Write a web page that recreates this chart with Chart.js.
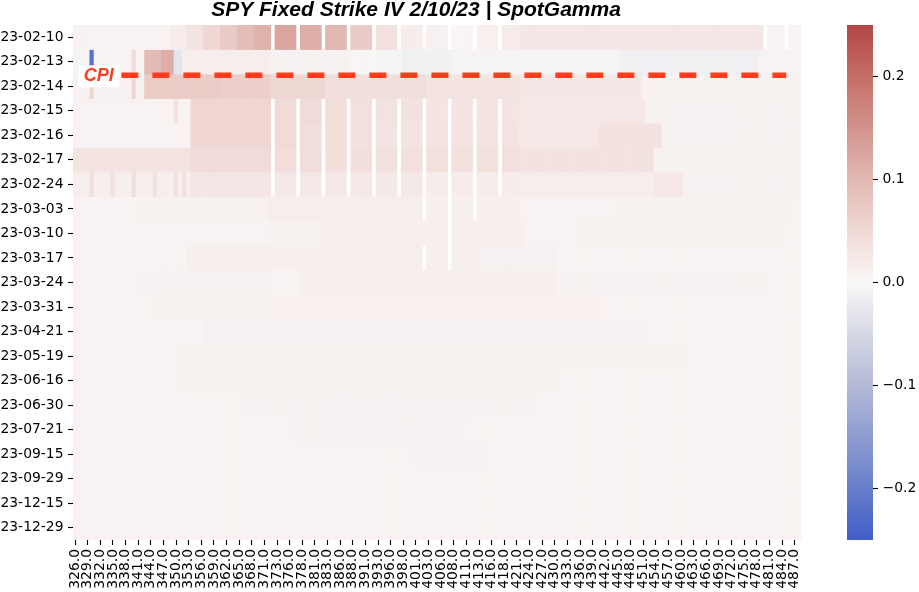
<!DOCTYPE html>
<html><head><meta charset="utf-8">
<script src="https://cdn.jsdelivr.net/npm/chart.js@4.4.1/dist/chart.umd.min.js"></script>
<style>
html,body{margin:0;padding:0;background:#fff;}
#wrap{position:relative;width:919px;height:592px;overflow:hidden;}
canvas{position:absolute;top:0;}
</style>
</head><body>
<div id="wrap">
<canvas id="main" width="919" height="592" style="left:0"></canvas>
<canvas id="cbar" width="99" height="592" style="left:820px"></canvas>
</div>
<script>
// ---------------- data ----------------
const chartTitle = 'SPY Fixed Strike IV 2/10/23 | SpotGamma';
const expiries = ['23-02-10','23-02-13','23-02-14','23-02-15','23-02-16','23-02-17','23-02-24','23-03-03','23-03-10','23-03-17','23-03-24','23-03-31','23-04-21','23-05-19','23-06-16','23-06-30','23-07-21','23-09-15','23-09-29','23-12-15','23-12-29'];
const strikes = [326,327,328,329,330,331,332,333,334,335,336,337,338,339,340,341,342,343,344,345,346,347,348,349,350,351,352,353,354,355,356,357,358,359,360,361,362,363,364,365,366,367,368,369,370,371,
372,372.5,373,374,375,376,377,377.5,378,379,380,381,382,382.5,383,384,385,386,387,387.5,388,389,390,391,392,392.5,393,394,395,396,397,397.5,398,399,400,401,402,402.5,403,404,405,406,407,407.5,408,409,410,411,412,412.5,413,414,415,416,417,417.5,418,419,420,421,
422,423,424,425,426,427,428,429,430,431,432,433,434,435,436,437,438,439,440,441,442,443,444,445,446,447,448,449,450,451,452,453,454,455,456,457,458,459,460,461,462,463,464,465,466,467,468,469,470,471,472,473,474,475,476,477,478,479,480,481,482,483,484,485,486,487,488];
const strikeTickLabels = ['326.0','329.0','332.0','335.0','338.0','341.0','344.0','347.0','350.0','353.0','356.0','359.0','362.0','365.0','368.0','371.0','373.0','376.0','378.0','381.0','383.0','386.0','388.0','391.0','393.0','396.0','398.0','401.0','403.0','406.0','408.0','411.0','413.0','416.0','418.0','421.0','424.0','427.0','430.0','433.0','436.0','439.0','442.0','445.0','448.0','451.0','454.0','457.0','460.0','463.0','466.0','469.0','472.0','475.0','478.0','481.0','484.0','487.0'];
const colorbarTicks = [-0.2,-0.1,0,0.1,0.2];
const colorbarMin = -0.25, colorbarMax = 0.25;

// IV change per expiry, as runs [fromStrike, toStrike, value]
const iv_23_02_10 = [[326,348,0.008],[349,352,0.018],[353,356,0.033],[357,360,0.052],[361,364,0.072],[365,368,0.092],[369,372.5,0.108],[373,377.5,0.125],[378,382.5,0.115],[383,387.5,0.1],[388,392.5,0.072],[393,397.5,0.036],[398,402.5,0.018],[403,407.5,0.011],[408,412.5,0.004],[413,417.5,0.012],[418,421,0.02],[422,479,0.026],[480,484,0.007],[485,488,0.005]];
const iv_23_02_13 = [[326,329,0.006],[330,330,-0.22],[331,339,0.006],[340,340,0.045],[341,342,0.006],[343,346,0.095],[347,349,0.115],[350,351,-0.03],[352,372,0.016],[372.5,387.5,0.009],[388,392.5,0.004],[393,397.5,-0.004],[398,407.5,-0.012],[408,421,-0.006],[422,445,-0.004],[446,478,-0.013],[479,488,0.006]];
const iv_23_02_14 = [[326,329,0.009],[330,330,0.055],[331,339,0.009],[340,340,0.055],[341,342,0.009],[343,360,0.07],[361,372,0.065],[372.5,382.5,0.052],[383,402.5,0.04],[403,421,0.032],[422,450,0.026],[451,488,0.01]];
const iv_23_02_15 = [[326,349,0.007],[350,350,0.035],[351,353,0.007],[354,372.5,0.055],[373,382.5,0.046],[383,387.5,0.042],[388,392.5,0.038],[393,402.5,0.034],[403,421,0.03],[422,451,0.025],[452,488,0.009]];
const iv_23_02_16 = [[326,353,0.007],[354,372.5,0.055],[373,377.5,0.046],[378,382.5,0.044],[383,387.5,0.04],[388,392.5,0.036],[393,421,0.031],[422,440,0.025],[441,455,0.035],[456,488,0.009]];
const iv_23_02_17 = [[326,353,0.032],[354,372.5,0.046],[373,377.5,0.044],[378,382.5,0.042],[383,387.5,0.041],[388,392.5,0.04],[393,421,0.038],[422,453,0.034],[454,488,0.01]];
const iv_23_02_24 = [[326,329,0.014],[330,330,0.04],[331,334,0.014],[335,335,0.036],[336,339,0.014],[340,340,0.04],[341,344,0.014],[345,345,0.036],[346,349,0.014],[350,350,0.036],[351,351,0.014],[352,352,0.036],[353,353,0.014],[354,372.5,0.028],[373,402.5,0.024],[403,421,0.018],[422,453,0.016],[454,460,0.025],[461,488,0.009]];
const iv_23_03_03 = [[326,340,0.007],[341,371,0.01],[372,402.5,0.015],[403,421,0.013],[422,444,0.008],[445,485,0.01],[486,488,0.007]];
const iv_23_03_10 = [[326,339,0.007],[340,372,0.008],[372.5,382,0.01],[382.5,422,0.014],[423,435,0.008],[436,484,0.01],[485,488,0.007]];
const iv_23_03_17 = [[326,340,0.007],[341,352,0.008],[353,412.5,0.013],[413,430,0.011],[431,488,0.007]];
const iv_23_03_24 = [[326,340,0.007],[341,372,0.009],[372.5,377.5,0.005],[378,430,0.013],[431,480,0.009],[481,488,0.007]];
const iv_23_03_31 = [[326,345,0.007],[346,372,0.01],[372.5,440,0.012],[441,488,0.007]];
const iv_23_04_21 = [[326,356,0.007],[357,450,0.011],[451,488,0.007]];
const iv_23_05_19 = [[326,350,0.007],[351,460,0.01],[461,488,0.007]];
const iv_23_06_16 = [[326,350,0.007],[351,430,0.01],[431,488,0.007]];
const iv_23_06_30 = [[326,366,0.007],[367,425,0.009],[426,488,0.007]];
const iv_23_07_21 = [[326,376,0.007],[377,410,0.009],[411,488,0.007]];
const iv_23_09_15 = [[326,400,0.007],[401,415,0.009],[416,488,0.007]];
const iv_23_09_29 = [[326,488,0.007]];
const iv_23_12_15 = [[326,488,0.007]];
const iv_23_12_29 = [[326,488,0.007]];

// strikes with no quote (NaN cells) per expiry
const halfStrikes = [372.5,377.5,382.5,387.5,392.5,397.5,402.5,407.5,412.5,417.5];
const missing_23_02_10 = [...halfStrikes, 480, 485];
const missing_23_03_03 = [402.5, 407.5, 412.5];
const missing_23_03_10 = [407.5];
const missing_23_03_17 = [402.5, 407.5];

// CPI marker
const cpiText = 'CPI';
const cpiStrikes = [337, 485];
const cpiLabelStrike = 332;
const cpiBoundary = 2.05;

// ---------------- styling ----------------
const cmapStops = [[-0.25,[64,94,200]],[-0.2,[104,126,202]],[-0.1,[180,186,214]],[-0.05,[214,216,228]],[0,[249,247,247]],[0.05,[240,217,213]],[0.1,[226,184,178]],[0.2,[196,110,104]],[0.25,[178,70,70]]];
const cpiColor = '#ff3d1e';
const tickFont = {family:'DejaVu Sans', size:13.9};

const rowRuns = [iv_23_02_10,iv_23_02_13,iv_23_02_14,iv_23_02_15,iv_23_02_16,iv_23_02_17,iv_23_02_24,iv_23_03_03,iv_23_03_10,iv_23_03_17,iv_23_03_24,iv_23_03_31,iv_23_04_21,iv_23_05_19,iv_23_06_16,iv_23_06_30,iv_23_07_21,iv_23_09_15,iv_23_09_29,iv_23_12_15,iv_23_12_29];
const rowMissing = [missing_23_02_10,[],[],halfStrikes,halfStrikes,halfStrikes,halfStrikes,missing_23_03_03,missing_23_03_10,missing_23_03_17,[],[],[],[],[],[],[],[],[],[],[]];

function rgb(c){return 'rgb('+c.map(Math.round).join(',')+')';}
function colorFor(v){
  v = Math.max(colorbarMin, Math.min(colorbarMax, v));
  for (let i=0;i<cmapStops.length-1;i++){
    const [a,ca]=cmapStops[i], [b,cb]=cmapStops[i+1];
    if (v>=a && v<=b){ const t=(v-a)/(b-a); return rgb(ca.map((x,k)=>x+(cb[k]-x)*t)); }
  }
  return rgb(cmapStops[cmapStops.length-1][1]);
}
function cellValue(runs, missing, s){
  if (missing.includes(s)) return null;
  for (const [a,b,v] of runs) if (s>=a && s<=b) return v;
  return null;
}

const datasets = expiries.map((e, r) => {
  const vals = strikes.map(s => cellValue(rowRuns[r], rowMissing[r], s));
  return {
    type:'bar', label:e,
    data: vals.map(v => v===null ? null : [r, r+1]),
    backgroundColor: vals.map(v => v===null ? 'rgba(0,0,0,0)' : colorFor(v)),
    borderWidth:0, grouped:false, barPercentage:1, categoryPercentage:1, order:2
  };
});
datasets.push({
  type:'line', label:cpiText,
  data: cpiStrikes.map(s => ({x:s, y:cpiBoundary})),
  borderColor:cpiColor, borderWidth:5.6, borderDash:[17,14], borderCapStyle:'butt',
  pointRadius:0, fill:false, order:0
});

const cpiLabelPlugin = {
  id:'cpiLabel',
  afterDatasetsDraw(chart){
    const {ctx, scales} = chart;
    const px = scales.x.getPixelForValue(strikes.indexOf(cpiLabelStrike)) - 1.5;
    const py = scales.y.getPixelForValue(cpiBoundary);
    ctx.save();
    ctx.font = 'italic bold 18px "Liberation Sans"';
    const w = ctx.measureText(cpiText).width;
    ctx.fillStyle = '#ffffff';
    ctx.fillRect(px - w/2 - 5.5, py - 10, w + 11, 22);
    ctx.fillStyle = cpiColor;
    ctx.textAlign = 'center';
    ctx.textBaseline = 'middle';
    ctx.fillText(cpiText, px, py + 1);
    ctx.restore();
  }
};

new Chart(document.getElementById('main'), {
  type:'bar',
  data:{labels:strikes, datasets},
  plugins:[cpiLabelPlugin],
  options:{
    responsive:false, animation:false, events:[],
    layout:{padding:{left:0, right:87, top:0, bottom:0}},
    plugins:{
      legend:{display:false}, tooltip:{enabled:false},
      title:{display:true, text:chartTitle, color:'#000', font:{family:'Liberation Sans', size:21, weight:'bold', style:'italic', lineHeight:1}, padding:{top:0, bottom:4}}
    },
    scales:{
      x:{
        type:'category', offset:true,
        grid:{display:true, drawOnChartArea:false, offset:false, tickLength:5, tickColor:'#000', tickWidth:1.1},
        border:{display:false},
        afterBuildTicks:(s)=>{ s.ticks = s.ticks.filter(t => strikeTickLabels.includes(strikes[t.value].toFixed(1))); },
        ticks:{autoSkip:false, maxRotation:90, minRotation:90, padding:4, color:'#000', font:tickFont,
          callback:(v)=>strikes[v].toFixed(1)},
        afterFit:(s)=>{ s.height = 52; }
      },
      y:{
        type:'linear', min:0, max:expiries.length, reverse:true,
        grid:{display:true, drawOnChartArea:false, tickLength:5, tickColor:'#000', tickWidth:1.1},
        border:{display:false},
        afterBuildTicks:(s)=>{ s.ticks = expiries.map((_,i)=>({value:i+0.5})); },
        ticks:{autoSkip:false, padding:4.5, color:'#000', font:tickFont,
          callback:(v)=>expiries[Math.floor(v)]},
        afterFit:(s)=>{ s.width = 73; }
      },
      ySpacer:{
        type:'linear', position:'right', display:true,
        grid:{display:false}, border:{display:false}, ticks:{display:false},
        afterFit:(s)=>{ s.width = 31; }
      }
    }
  }
});

// ---------------- colorbar ----------------
new Chart(document.getElementById('cbar'), {
  type:'bar',
  data:{labels:[''], datasets:[{
    data:[[colorbarMin, colorbarMax]],
    backgroundColor:(ctx)=>{
      const a = ctx.chart.chartArea; if (!a) return 'rgba(0,0,0,0)';
      const g = ctx.chart.ctx.createLinearGradient(0, a.bottom, 0, a.top);
      cmapStops.forEach(([v,c]) => g.addColorStop((v-colorbarMin)/(colorbarMax-colorbarMin), rgb(c)));
      return g;
    },
    borderWidth:0, barPercentage:1, categoryPercentage:1
  }]},
  options:{
    responsive:false, animation:false, events:[],
    layout:{padding:{left:27, top:25, bottom:52, right:0}},
    plugins:{legend:{display:false}, tooltip:{enabled:false}},
    scales:{
      x:{display:false},
      y:{
        position:'right', min:colorbarMin, max:colorbarMax,
        grid:{display:true, drawOnChartArea:false, tickLength:5, tickColor:'#000', tickWidth:1.1},
        border:{display:false},
        afterBuildTicks:(s)=>{ s.ticks = colorbarTicks.map(v=>({value:v})); },
        ticks:{padding:4.5, color:'#000', font:tickFont,
          callback:(v)=> (v < -1e-9 ? '\u2212' : '') + Math.abs(v).toFixed(1)},
        afterFit:(s)=>{ s.width = 46; }
      }
    }
  }
});
</script>
</body></html>
